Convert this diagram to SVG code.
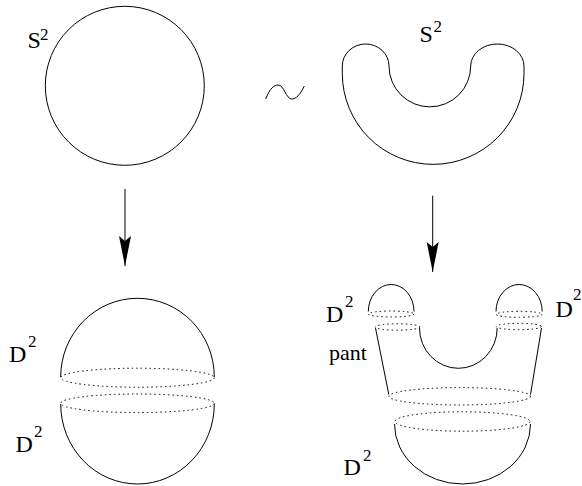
<svg xmlns="http://www.w3.org/2000/svg" width="582" height="486" viewBox="0 0 582 486">
<style>
.ln{fill:none;stroke:#000;stroke-width:1}
.dt{fill:none;stroke:#000;stroke-width:1;stroke-dasharray:1.5 3}
.lb{font-family:"Liberation Serif","Times New Roman",serif;font-size:24px;fill:#000}
.sp{font-family:"Liberation Serif","Times New Roman",serif;font-size:17px;fill:#000}
.ah{fill:#000;stroke:none}
</style>
<defs>
<marker id="arr" markerUnits="userSpaceOnUse" viewBox="-31 -7 32 14" markerWidth="32" markerHeight="14" refX="0" refY="0" orient="auto">
<path class="ah" d="M0,0 L-30,-6 L-25,0 L-30,6 Z"/>
</marker>
</defs>
<rect width="582" height="486" fill="#fff"/>

<g id="sphere">
<circle class="ln" cx="124.8" cy="85.8" r="79.5"/>
<text class="lb" x="27.5" y="48.3">S</text>
<text class="sp" x="40" y="39.5">2</text>
</g>

<g id="tilde">
<path class="ln" d="M265.7,99 C270,88 274,85 278.3,85 C284,85 286,99 291.7,99 C296,99 300,95 304.3,86"/>
</g>

<g id="ushape">
<path class="ln" d="M389,66 A40.85 40.85 0 0 0 470.7,66 A26.65 22 0 0 1 524,66 L524,73.5 A90.85 90.85 0 0 1 342.3,73.5 L342.3,66 A23.35 22 0 0 1 389,66 Z"/>
<text class="lb" x="419.5" y="42.3">S</text>
<text class="sp" x="433.5" y="31.5">2</text>
</g>

<g id="split-sphere">
<path class="ln" d="M60.7,377 A76.8 78.7 0 0 1 214.3,377"/>
<ellipse class="dt" cx="137.5" cy="377.7" rx="76.8" ry="9.5"/>
<ellipse class="dt" cx="137.5" cy="403.3" rx="76.8" ry="9.3"/>
<path class="ln" d="M60.7,404 A76.8 80 0 0 0 214.3,404"/>
<text class="lb" x="9" y="361.7">D</text>
<text class="sp" x="28" y="346.7">2</text>
<text class="lb" x="15.5" y="451.7">D</text>
<text class="sp" x="34" y="436.7">2</text>
</g>

<g id="pant-decomposition">
<path class="ln" d="M368.3,311.5 A22.85 27 0 0 1 414,311.5"/>
<ellipse class="dt" cx="391.2" cy="314" rx="22.8" ry="3"/>
<ellipse class="dt" cx="397.5" cy="327" rx="22.3" ry="3.2"/>
<path class="ln" d="M496,311.5 A23.1 27 0 0 1 542.2,311.5"/>
<ellipse class="dt" cx="519.2" cy="314.3" rx="23" ry="3"/>
<ellipse class="dt" cx="518.8" cy="326.5" rx="22.5" ry="3.2"/>
<line class="ln" x1="375.5" y1="328" x2="388.8" y2="394.5"/>
<line class="ln" x1="541.5" y1="328" x2="530.5" y2="394.5"/>
<path class="ln" d="M419.5,328 A38.85 40.3 0 0 0 497.2,328"/>
<ellipse class="dt" cx="459.7" cy="396.3" rx="70.8" ry="8.7"/>
<ellipse class="dt" cx="462.5" cy="421.5" rx="67.5" ry="9.7"/>
<path class="ln" d="M394.5,424 A68 60 0 0 0 530.5,424"/>
<text class="lb" x="326" y="322">D</text>
<text class="sp" x="345" y="307">2</text>
<text class="lb" x="555.5" y="316.7">D</text>
<text class="sp" x="573" y="300">2</text>
<text class="lb" x="367" y="360" text-anchor="end" style="font-size:22px">pant</text>
<text class="lb" x="343.5" y="475">D</text>
<text class="sp" x="363" y="461">2</text>
</g>

<g id="connectors">
<line class="ln" x1="125" y1="189" x2="125" y2="266" marker-end="url(#arr)"/>
<line class="ln" x1="432.7" y1="195.7" x2="432.7" y2="272" marker-end="url(#arr)"/>
</g>
</svg>
